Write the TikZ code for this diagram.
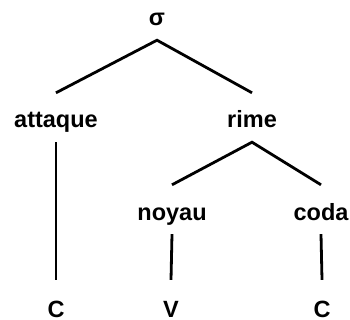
\documentclass[tikz,border=0pt]{standalone}
\usepackage{fontspec}
\setmainfont{Liberation Sans}
\usepackage{tikz}

\begin{document}
\begin{tikzpicture}[
  x=1pt, y=-1pt,
  label/.style={anchor=base, inner sep=0pt, text height=35pt, text depth=14pt, font=\fontsize{23.5}{27}\selectfont\bfseries},
  leaf/.style={label, text height=37pt, text depth=0pt},
  branch/.style={line width=2.8pt}
]
\useasboundingbox (0,0) rectangle (350,320);
\node[label] (sigma) at (157,26) {σ};
\node[label] (attaque) at (56,128) {attaque};
\node[label] (rime) at (252,128) {rime};
\node[label] (noyau) at (172,220) {noyau};
\node[label] (coda) at (321,220) {coda};
\node[leaf] (c1) at (56,317) {C};
\node[leaf] (v) at (171,317) {V};
\node[leaf] (c2) at (322,317) {C};

\draw[branch] (attaque.north) -- (sigma.south) -- (rime.north);
\draw[branch] (noyau.north) -- (rime.south) -- (coda.north);
\draw[branch] (attaque.south) -- (c1.north);
\draw[branch] (noyau.south) -- (v.north);
\draw[branch] (coda.south) -- (c2.north);

\end{tikzpicture}
\end{document}
